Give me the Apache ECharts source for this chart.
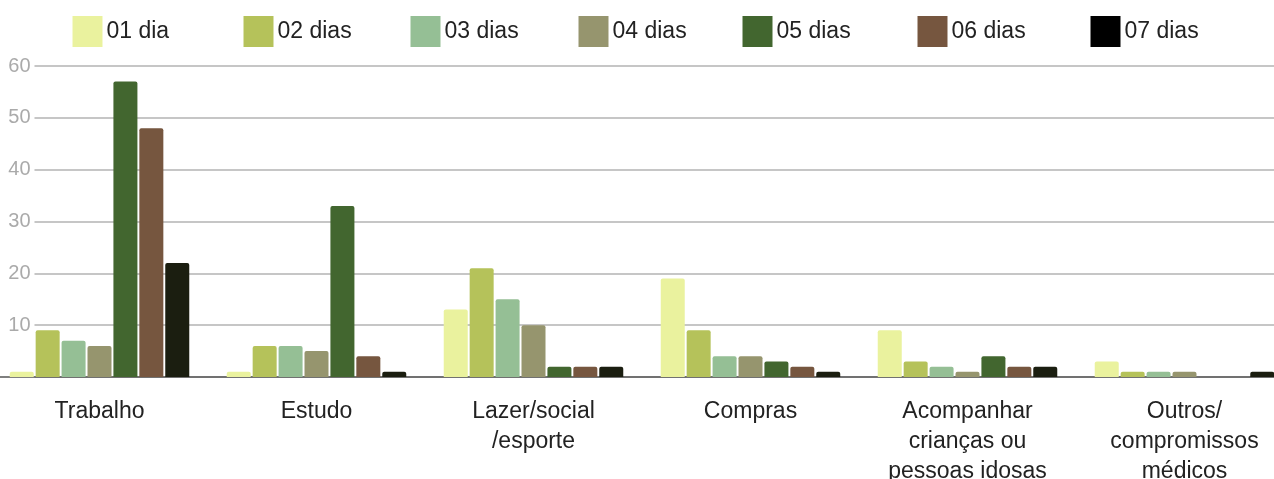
<!DOCTYPE html>
<html>
<head>
<meta charset="utf-8">
<script src="https://cdn.jsdelivr.net/npm/echarts@6/dist/echarts.min.js"></script>
<style>
  html, body { margin: 0; padding: 0; background: #fff; overflow: hidden; }
  /* the plot area in the original runs a little past both edges of the picture */
  #chart { position: absolute; left: -9.5px; top: 0; width: 1302px; height: 479px; }
</style>
</head>
<body>
<div id="chart"></div>
<script>
  // motivos de deslocamento x dias por semana
  var categories = ['Trabalho', 'Estudo', 'Lazer/social\n/esporte', 'Compras',
    'Acompanhar\ncrianças ou\npessoas idosas', 'Outros/\ncompromissos\nmédicos'];
  var seriesNames = ['01 dia', '02 dias', '03 dias', '04 dias', '05 dias', '06 dias', '07 dias'];
  var dia01 = [1, 1, 13, 19, 9, 3];
  var dias02 = [9, 6, 21, 9, 3, 1];
  var dias03 = [7, 6, 15, 4, 2, 1];
  var dias04 = [6, 5, 10, 4, 1, 1];
  var dias05 = [57, 33, 2, 3, 4, 0];
  var dias06 = [48, 4, 2, 2, 2, 0];
  var dias07 = [22, 1, 2, 1, 2, 1];
  var yTicks = [0, 10, 20, 30, 40, 50, 60];

  var barColors = ['#eaf29e', '#b5c25a', '#95bf95', '#96956e', '#42662f', '#76563f', '#1b1e10'];
  var legendColors = ['#eaf29e', '#b5c25a', '#95bf95', '#96956e', '#42662f', '#76563f', '#000000'];
  var legendLeft = [72, 243, 410, 578, 742, 917, 1090];
  var allData = [dia01, dias02, dias03, dias04, dias05, dias06, dias07];
  var shift = 9.5; // div offset

  var myChart = echarts.init(document.getElementById('chart'));

  var legends = seriesNames.map(function(name, i) {
    return {
      left: legendLeft[i] + shift,
      top: 16,
      padding: 0,
      itemWidth: 30,
      itemHeight: 31,
      itemGap: 0,
      icon: 'rect',
      selectedMode: false,
      data: [{ name: name, itemStyle: { color: legendColors[i] } }],
      textStyle: { fontFamily: 'Liberation Sans', fontSize: 23, color: '#222', padding: [0, 0, 0, -1] }
    };
  });

  var series = seriesNames.map(function(name, i) {
    return {
      name: name,
      type: 'bar',
      xAxisIndex: 1,
      yAxisIndex: 1,
      barWidth: 24,
      barGap: '8%',
      itemStyle: { color: barColors[i], borderRadius: [2, 2, 0, 0] },
      data: allData[i]
    };
  });

  var option = {
    animation: false,
    legend: legends,
    grid: [
      { left: 34 + shift, right: 0, top: 66, bottom: 102, outerBoundsMode: 'none' },
      { left: 0, right: 0, top: 66, bottom: 102, outerBoundsMode: 'none' }
    ],
    xAxis: [
      { type: 'value', gridIndex: 0, show: false },
      {
        type: 'category',
        gridIndex: 1,
        data: categories,
        axisTick: { show: false },
        axisLine: { lineStyle: { color: '#555', width: 1.5 } },
        axisLabel: {
          interval: 0,
          margin: 20,
          fontFamily: 'Liberation Sans',
          fontSize: 23,
          lineHeight: 30,
          color: '#222'
        }
      }
    ],
    yAxis: [
      {
        type: 'value',
        gridIndex: 0,
        min: yTicks[0],
        max: yTicks[yTicks.length - 1],
        interval: 10,
        axisLine: { show: false },
        axisTick: { show: false },
        splitLine: { lineStyle: { color: '#c6c6c6', width: 2 } },
        axisLabel: {
          margin: 4,
          fontFamily: 'Liberation Sans',
          fontSize: 20,
          color: '#aaaaaa',
          formatter: function(v) { return v === 0 ? '' : v; }
        }
      },
      {
        type: 'value',
        gridIndex: 1,
        min: yTicks[0],
        max: yTicks[yTicks.length - 1],
        interval: 10,
        show: false
      }
    ],
    series: series
  };
  myChart.setOption(option);
</script>
</body>
</html>
